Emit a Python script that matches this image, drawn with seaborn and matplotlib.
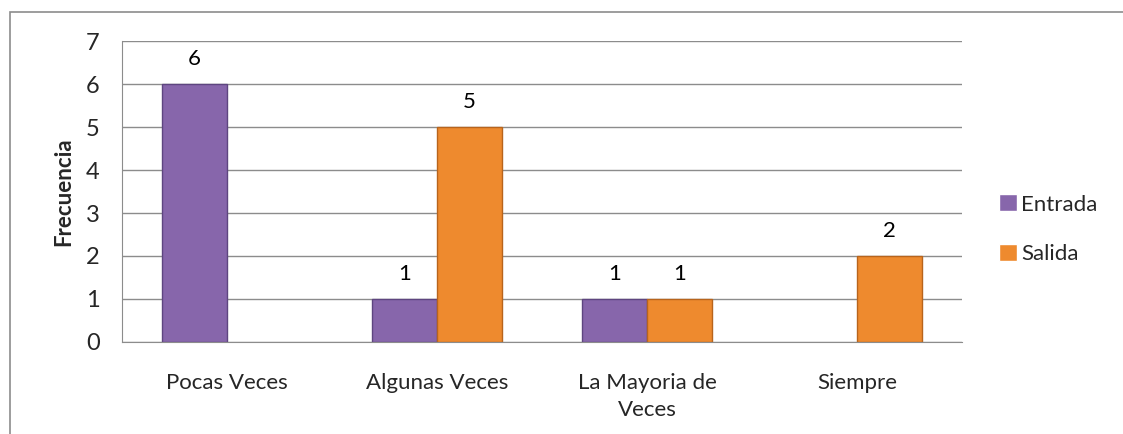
import matplotlib
matplotlib.use("Agg")
import matplotlib.pyplot as plt
from matplotlib.patches import Rectangle
import pandas as pd
import seaborn as sns

categorias = ["Pocas Veces", "Algunas Veces", "La Mayoria de\nVeces", "Siempre"]
entrada = [6, 1, 1, 0]
salida = [0, 5, 1, 2]
series = ["Entrada", "Salida"]
colores = {"Entrada": "#8766AB", "Salida": "#EE8A2E"}
bordes = {"Entrada": "#5E4580", "Salida": "#B8641C"}

df = pd.DataFrame({
    "Categoria": categorias * 2,
    "Serie": ["Entrada"] * len(categorias) + ["Salida"] * len(categorias),
    "Frecuencia": entrada + salida,
})

sns.set_style("white")
plt.rcParams["font.family"] = ["Lato", "DejaVu Sans"]
FS = 16

fig = plt.figure(figsize=(11.23, 4.34), dpi=100)
ax = fig.add_axes([0.1086, 0.212, 0.748, 0.6935])

sns.barplot(data=df, x="Categoria", y="Frecuencia", hue="Serie",
            hue_order=series, palette=colores, width=0.62, ax=ax,
            saturation=1, legend=True)

# bar edges + value labels (only non-zero)
for cont, serie in zip(ax.containers, series):
    for bar in cont:
        h = bar.get_height()
        if h > 0:
            bar.set_edgecolor(bordes[serie])
            bar.set_linewidth(1.0)
            ax.text(bar.get_x() + bar.get_width() / 2, h + 0.34, f"{int(h)}",
                    ha="center", va="bottom", fontsize=FS, color="black")
        else:
            bar.set_linewidth(0)

ax.set_ylim(0, 7)
ax.set_yticks(range(0, 8))
ax.yaxis.grid(True, color="#8C8C8C", linewidth=1.0)
ax.set_axisbelow(True)
for s in ["top", "right"]:
    ax.spines[s].set_visible(False)
ax.spines["left"].set_color("#8C8C8C")
ax.spines["bottom"].set_color("#8C8C8C")
ax.tick_params(axis="y", length=8, color="#8C8C8C", labelsize=FS + 1, pad=8)
ax.tick_params(axis="x", length=0, labelsize=FS, pad=22)
for t in ax.get_xticklabels():
    t.set_linespacing(1.45)
ax.set_xlabel("")
ax.set_ylabel("Frecuencia", fontsize=FS, fontweight="bold", labelpad=8)

leg = ax.legend(loc="center left", bbox_to_anchor=(1.02, 0.375), frameon=False,
                fontsize=FS, handlelength=0.8, handleheight=0.8,
                handletextpad=0.2, labelspacing=1.3)

# outer chart frame
fig.patches.append(Rectangle((10 / 1123, -0.1), 1.2, 1.1 - 12 / 434,
                             transform=fig.transFigure, fill=False,
                             edgecolor="#8C8C8C", linewidth=1.2))

fig.savefig("out.png", dpi=100)
